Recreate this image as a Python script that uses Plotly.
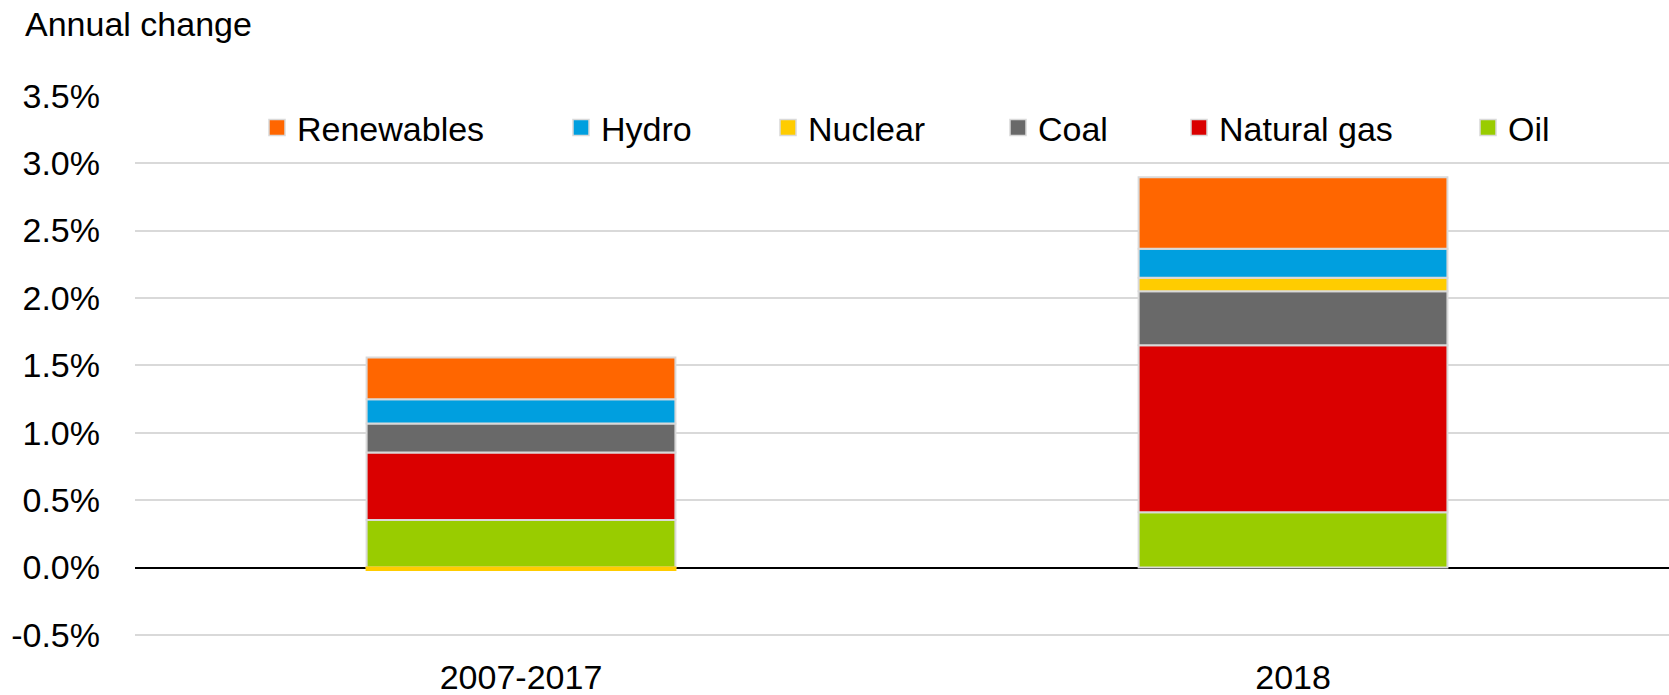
import plotly.graph_objects as go

# ---- data ----
categories = ["2007-2017", "2018"]
oil = [0.353, 0.41]
natural_gas = [0.50, 1.24]
coal = [0.215, 0.40]
nuclear = [-0.018, 0.10]
hydro = [0.18, 0.215]
renewables = [0.31, 0.53]

series_names = ["Oil", "Natural gas", "Coal", "Nuclear", "Hydro", "Renewables"]
series_values = [oil, natural_gas, coal, nuclear, hydro, renewables]
series_colors = ["#99CC00", "#DA0000", "#696969", "#FFCC00", "#009FDF", "#FF6600"]

y_tick_values = [-0.5, 0.0, 0.5, 1.0, 1.5, 2.0, 2.5, 3.0, 3.5]
y_tick_labels = ["-0.5%", "0.0%", "0.5%", "1.0%", "1.5%", "2.0%", "2.5%", "3.0%", "3.5%"]

# ---- layout geometry ----
W, H = 1669, 695
ML, MR, MT, MB = 135, 0, 95, 59
PW = W - ML - MR
PH = H - MT - MB

FONT = "Liberation Sans, Arial, Helvetica, sans-serif"
FS = 34
OUTLINE = "#d9d9d9"

fig = go.Figure()

for name, vals, col in zip(series_names, series_values, series_colors):
    # thin negative segments show their own colour as outline (as in the reference)
    line_cols = [col if v < 0 else OUTLINE for v in vals]
    fig.add_trace(go.Bar(
        x=categories, y=vals, name=name,
        marker=dict(color=col, line=dict(color=line_cols, width=2)),
        width=0.4, showlegend=False,
    ))

# legend entries (one legend per entry, placed like the reference)
legend_order = ["Renewables", "Hydro", "Nuclear", "Coal", "Natural gas", "Oil"]
legend_left_px = [257, 561, 768, 998, 1179, 1468]
legend_y = (H - MB - 128) / PH

layout_legends = {}
for i, (nm, lx) in enumerate(zip(legend_order, legend_left_px)):
    key = "legend" if i == 0 else f"legend{i + 1}"
    col = series_colors[series_names.index(nm)]
    fig.add_trace(go.Scatter(
        x=[None], y=[None], mode="markers", name=nm,
        marker=dict(symbol="square", size=18, color=col,
                    line=dict(color=OUTLINE, width=1.5)),
        legend=key, showlegend=True, hoverinfo="skip",
    ))
    layout_legends[key] = dict(
        x=(lx - ML) / PW, xanchor="left",
        y=legend_y, yanchor="middle",
        orientation="h", bgcolor="rgba(0,0,0,0)", borderwidth=0,
        font=dict(family=FONT, size=FS, color="#000000"),
        itemclick=False, itemdoubleclick=False,
    )

fig.update_layout(
    width=W, height=H,
    margin=dict(l=ML, r=MR, t=MT, b=MB, pad=0, autoexpand=False),
    paper_bgcolor="white", plot_bgcolor="white",
    barmode="relative",
    font=dict(family=FONT, size=FS, color="#000000"),
    **layout_legends,
    xaxis=dict(
        type="category", categoryorder="array", categoryarray=categories,
        range=[-0.5, 1.487], showgrid=False, showline=False, ticks="",
        tickfont=dict(family=FONT, size=FS, color="#000000"),
        ticklabelstandoff=18, zeroline=False, automargin=False,
    ),
    yaxis=dict(
        range=[-0.508, 3.506], tickvals=y_tick_values, ticktext=y_tick_labels,
        showgrid=True, gridcolor=OUTLINE, gridwidth=1.5,
        zeroline=True, zerolinecolor="#000000", zerolinewidth=2,
        showline=False, ticks="", automargin=False,
        tickfont=dict(family=FONT, size=FS, color="#000000"),
        ticklabelstandoff=34,
    ),
    annotations=[dict(
        text="Annual change", xref="paper", yref="paper",
        x=(23 - ML) / PW, y=(H - MB - 24) / PH,
        xanchor="left", yanchor="middle", showarrow=False,
        font=dict(family=FONT, size=FS, color="#000000"),
    )],
)

fig.write_html(
    "out.html",
    config={"displayModeBar": False},
    post_script="document.body.style.margin='0px';document.body.style.padding='0px';",
)
